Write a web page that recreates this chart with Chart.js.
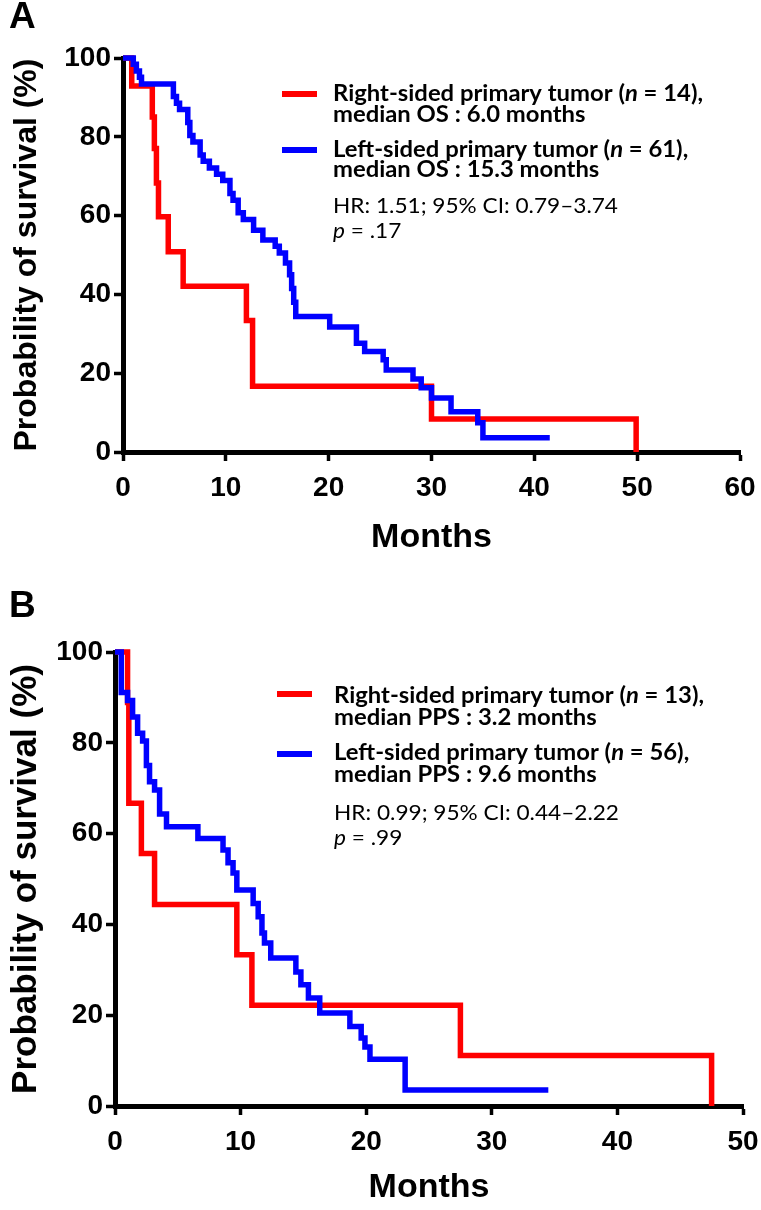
<!DOCTYPE html>
<html>
<head>
<meta charset="utf-8">
<title>Survival by primary tumor side</title>
<script src="https://cdn.jsdelivr.net/npm/chart.js@4.4.1/dist/chart.umd.min.js"></script>
<style>
  html, body { margin: 0; padding: 0; background: #fff; }
  #page { position: relative; width: 761px; height: 1210px; overflow: hidden; }
  canvas { position: absolute; left: 0; }
  #chartA { top: 0; }
  #chartB { top: 580px; }
  .tag { position: absolute; left: 9px; font: bold 37px "Liberation Sans", Arial, sans-serif; color: #000; line-height: 1; }
</style>
</head>
<body>
<div id="page">
  <canvas id="chartA" width="761" height="580"></canvas>
  <canvas id="chartB" width="761" height="630"></canvas>
  <div class="tag" style="top:-3px">A</div>
  <div class="tag" style="top:586px">B</div>
</div>
<script>
// ---- panel A : overall survival ----
const monthsA_right = [0, 0.85, 2.85, 3.05, 3.25, 3.45, 4.4, 5.85, 12.0, 12.6, 30.0, 49.9];
const survA_right   = [100, 92.9, 85.0, 77.0, 68.3, 59.7, 50.8, 42.1, 33.4, 16.7, 8.4, 0];

const monthsA_left = [0, 1.0, 1.3, 1.6, 1.8, 4.9, 5.2, 5.5, 6.3, 6.5, 6.8, 7.5, 7.8, 8.4, 9.1,
  9.7, 10.4, 10.7, 11.2, 11.7, 12.7, 13.6, 14.8, 15.2, 15.8, 16.2, 16.4, 16.6, 16.8, 20.1,
  22.7, 23.5, 25.3, 25.6, 28.2, 29.0, 30.0, 31.9, 34.5, 35.0, 41.5];
const survA_left = [100, 98.4, 96.7, 95.1, 93.4, 90.2, 88.5, 86.9, 83.6, 80.3, 78.7, 75.4, 73.8, 72.1, 70.5,
  68.9, 65.6, 63.9, 60.7, 59.0, 56.3, 53.8, 52.2, 50.5, 48.0, 45.0, 41.5, 38.0, 34.4, 31.7,
  27.6, 25.5, 23.4, 20.8, 18.5, 16.3, 13.7, 10.2, 7.4, 3.6, 3.6];

// ---- panel B : post-progression survival ----
const monthsB_right = [0, 1.0, 1.1, 2.1, 3.15, 9.7, 10.9, 27.5, 47.5];
const survB_right   = [100, 88.9, 66.7, 55.6, 44.4, 33.3, 22.2, 11.1, 0];

const monthsB_left = [0, 0.5, 1.0, 1.4, 1.8, 2.2, 2.5, 2.75, 3.15, 3.55, 4.1, 6.6, 8.6, 9.0, 9.4,
  9.7, 11.0, 11.4, 11.7, 11.9, 12.4, 14.4, 14.8, 15.4, 16.3, 18.7, 19.6, 19.9, 20.3, 23.1, 34.5];
const survB_left = [100, 91.1, 89.3, 85.7, 82.1, 80.4, 75.0, 71.4, 69.6, 64.3, 61.5, 58.9, 56.4, 53.6, 51.3,
  47.6, 44.6, 41.7, 38.1, 35.9, 32.6, 29.5, 26.7, 23.8, 20.5, 17.5, 15.0, 13.0, 10.3, 3.5, 3.5];

const legendA = [
  ['Right-sided primary tumor (n = 14),', 'median OS : 6.0 months'],
  ['Left-sided primary tumor (n = 61),', 'median OS : 15.3 months']
];
const statsA = ['HR: 1.51; 95% CI: 0.79\u20133.74', 'p = .17'];

const legendB = [
  ['Right-sided primary tumor (n = 13),', 'median PPS : 3.2 months'],
  ['Left-sided primary tumor (n = 56),', 'median PPS : 9.6 months']
];
const statsB = ['HR: 0.99; 95% CI: 0.44\u20132.22', 'p = .99'];

const RED = '#ff0000';
const BLUE = '#0000ff';
const AXIS_FONT = '"Liberation Sans", Arial, sans-serif';
const TEXT_FONT = 'Lato, "Open Sans", sans-serif';

function points(xs, ys) {
  return xs.map((x, i) => ({ x: x, y: ys[i] }));
}

// split "n = 14" / "p = .17" so the statistic letter can be set in italics
function parts(text) {
  return text.split(/(\b[np](?= =))/).filter(s => s.length).map(s => ({ t: s, it: /^[np]$/.test(s) }));
}

function lineWidth(ctx, text, weight, size) {
  let w = 0;
  parts(text).forEach(p => {
    ctx.font = (p.it ? 'italic ' : '') + weight + ' ' + size + 'px ' + TEXT_FONT;
    w += ctx.measureText(p.t).width;
  });
  return w;
}

function drawText(ctx, text, x, y, weight, size, sx) {
  ctx.save();
  ctx.translate(x, y);
  ctx.scale(sx, 1);
  let cx = 0;
  parts(text).forEach(p => {
    ctx.font = (p.it ? 'italic ' : '') + weight + ' ' + size + 'px ' + TEXT_FONT;
    ctx.fillText(p.t, cx, 0);
    cx += ctx.measureText(p.t).width;
  });
  ctx.restore();
}

// legend + statistics block drawn to the right of the curves
const kmLegend = {
  id: 'kmLegend',
  afterDraw(chart, args, o) {
    const ctx = chart.ctx;
    ctx.save();
    ctx.textBaseline = 'alphabetic';
    ctx.fillStyle = '#000';
    const sb = o.boldWidth / lineWidth(ctx, o.rows[0][0], 'bold', o.size);
    const sr = o.regWidth / lineWidth(ctx, o.stats[0], 'normal', o.regSize);
    o.rows.forEach((row, i) => {
      ctx.fillStyle = o.colors[i];
      ctx.fillRect(o.swatchX, o.swatchY[i], o.swatchW, 6);
      ctx.fillStyle = '#000';
      row.forEach((line, j) => drawText(ctx, line, o.x, o.rowY[i][j], 'bold', o.size, sb));
    });
    o.stats.forEach((line, j) => drawText(ctx, line, o.x, o.statY[j], 'normal', o.regSize, sr));
    ctx.restore();
  }
};

function kmChart(id, cfg) {
  const ds = (xs, ys, color) => ({
    data: points(xs, ys),
    borderColor: color,
    borderWidth: 5.5,
    stepped: 'before',
    pointRadius: 0,
    fill: false,
    clip: false,
    borderCapStyle: 'butt',
    borderJoinStyle: 'miter'
  });
  const tickFont = { family: AXIS_FONT, weight: 'bold', size: 28 };
  const gridCfg = { drawOnChartArea: false, drawTicks: true, tickLength: 9, tickWidth: 3.5, tickColor: '#000' };
  return new Chart(document.getElementById(id), {
    type: 'line',
    data: {
      datasets: [
        ds(cfg.leftX, cfg.leftY, BLUE),
        ds(cfg.rightX, cfg.rightY, RED)
      ]
    },
    options: {
      responsive: false,
      animation: false,
      devicePixelRatio: 1,
      layout: { padding: { top: cfg.top, right: cfg.right, left: 0, bottom: 0 } },
      plugins: {
        legend: { display: false },
        tooltip: { enabled: false },
        kmLegend: cfg.legend
      },
      scales: {
        x: {
          type: 'linear',
          min: 0,
          max: cfg.xMax,
          afterFit: s => { s.height = cfg.xHeight; s.paddingRight = 0; },
          ticks: { stepSize: 10, color: '#000', font: tickFont, padding: cfg.xTickPad, maxRotation: 0 },
          grid: gridCfg,
          border: { display: true, color: '#000', width: 5 },
          title: { display: true, text: 'Months', color: '#000',
                   font: { family: AXIS_FONT, weight: 'bold', size: 34 },
                   padding: { top: 0, bottom: cfg.xTitlePad } }
        },
        y: {
          min: 0,
          max: 100,
          afterFit: s => { s.width = cfg.yWidth; },
          ticks: { stepSize: 20, color: '#000', font: tickFont, padding: 3 },
          grid: gridCfg,
          border: { display: true, color: '#000', width: 5 },
          title: { display: true, text: 'Probability of survival (%)', color: '#000',
                   font: { family: AXIS_FONT, weight: 'bold', size: cfg.yTitleSize },
                   padding: { top: cfg.yTitlePad, bottom: 0 } }
        }
      }
    },
    plugins: [kmLegend]
  });
}

kmChart('chartA', {
  rightX: monthsA_right, rightY: survA_right,
  leftX: monthsA_left, leftY: survA_left,
  xMax: 60, top: 58, right: 21, yWidth: 123, xHeight: 128,
  xTickPad: 10, xTitlePad: 22, yTitleSize: 32, yTitlePad: 8,
  legend: {
    rows: legendA, stats: statsA, colors: [RED, BLUE],
    x: 333, swatchX: 282, swatchW: 35, swatchY: [91, 147],
    rowY: [[101, 122], [157, 177]], statY: [213, 238],
    size: 22, regSize: 21, boldWidth: 370, regWidth: 285
  }
});

kmChart('chartB', {
  rightX: monthsB_right, rightY: survB_right,
  leftX: monthsB_left, leftY: survB_left,
  xMax: 50, top: 72, right: 18, yWidth: 115, xHeight: 104,
  xTickPad: 10, xTitlePad: 2, yTitleSize: 35, yTitlePad: 5,
  legend: {
    rows: legendB, stats: statsB, colors: [RED, BLUE],
    x: 334, swatchX: 277, swatchW: 35, swatchY: [111, 171],
    rowY: [[123, 145], [180, 202]], statY: [240, 265],
    size: 22, regSize: 21, boldWidth: 370, regWidth: 285
  }
});
</script>
</body>
</html>
